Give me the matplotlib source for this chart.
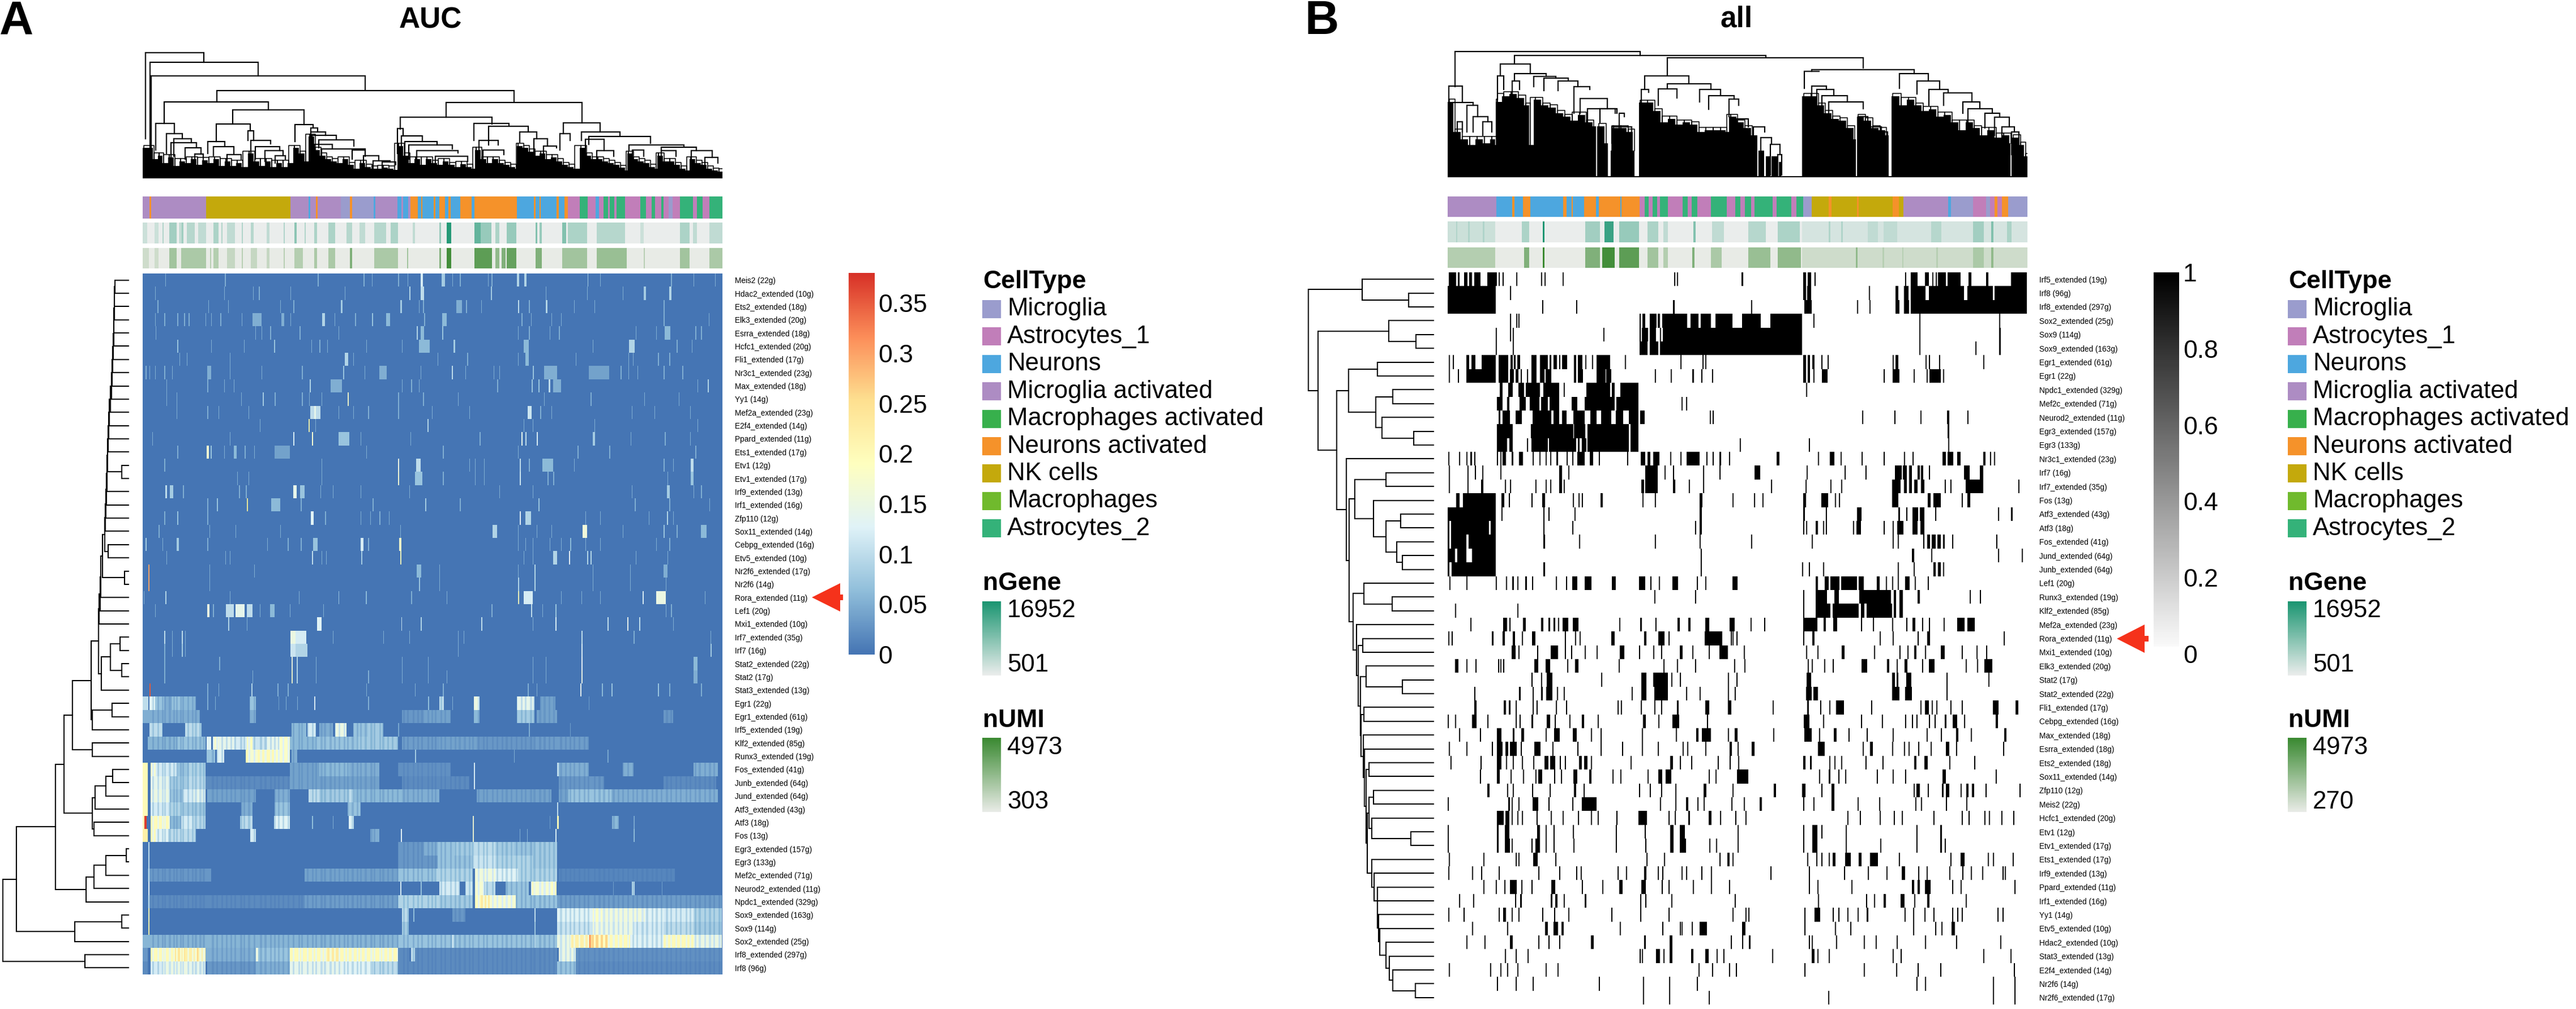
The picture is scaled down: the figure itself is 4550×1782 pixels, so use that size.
import matplotlib
matplotlib.use("Agg")
import matplotlib.pyplot as plt
import numpy as np
from matplotlib.colors import LinearSegmentedColormap, ListedColormap
from matplotlib.patches import Polygon, Rectangle

plt.rcParams["font.family"] = ["Liberation Sans", "DejaVu Sans"]

W, H = 4550, 1782

cell_types = ["Microglia", "Astrocytes_1", "Neurons", "Microglia activated", "Macrophages activated",
              "Neurons activated", "NK cells", "Macrophages", "Astrocytes_2"]
cell_colors = ["#9A9CCD", "#C17EB9", "#4DA7DF", "#AD8CC3", "#37B04C", "#F5922A", "#C4A90C", "#70BA2D", "#34B279"]
M, A1, N, MA, MPA, NA, NK, MP, A2 = range(9)

auc_ticks = [0, 0.05, 0.1, 0.15, 0.2, 0.25, 0.3, 0.35]
auc_tick_labels = ["0", "0.05", "0.1", "0.15", "0.2", "0.25", "0.3", "0.35"]
all_ticks = [0, 0.2, 0.4, 0.6, 0.8, 1]
all_tick_labels = ["0", "0.2", "0.4", "0.6", "0.8", "1"]

auc_labels = ["Meis2 (22g)", "Hdac2_extended (10g)", "Ets2_extended (18g)", "Elk3_extended (20g)", "Esrra_extended (18g)",
              "Hcfc1_extended (20g)", "Fli1_extended (17g)", "Nr3c1_extended (23g)", "Max_extended (18g)", "Yy1 (14g)",
              "Mef2a_extended (23g)", "E2f4_extended (14g)", "Ppard_extended (11g)", "Ets1_extended (17g)", "Etv1 (12g)",
              "Etv1_extended (17g)", "Irf9_extended (13g)", "Irf1_extended (16g)", "Zfp110 (12g)", "Sox11_extended (14g)",
              "Cebpg_extended (16g)", "Etv5_extended (10g)", "Nr2f6_extended (17g)", "Nr2f6 (14g)", "Rora_extended (11g)",
              "Lef1 (20g)", "Mxi1_extended (10g)", "Irf7_extended (35g)", "Irf7 (16g)", "Stat2_extended (22g)", "Stat2 (17g)",
              "Stat3_extended (13g)", "Egr1 (22g)", "Egr1_extended (61g)", "Irf5_extended (19g)", "Klf2_extended (85g)",
              "Runx3_extended (19g)", "Fos_extended (41g)", "Junb_extended (64g)", "Jund_extended (64g)", "Atf3_extended (43g)",
              "Atf3 (18g)", "Fos (13g)", "Egr3_extended (157g)", "Egr3 (133g)", "Mef2c_extended (71g)", "Neurod2_extended (11g)",
              "Npdc1_extended (329g)", "Sox9_extended (163g)", "Sox9 (114g)", "Sox2_extended (25g)", "Irf8_extended (297g)",
              "Irf8 (96g)"]

# AUC rows. int = faint line, (x, v) = line with value, (x0, x1, v) = block
auc_rows = [
    [67, 227, 475, 598, 620, 690, 715, (750, 757, .12), (806, 815, .08), 835, 855, 930, 940, (1008, 1013, .09), (1027, 1033, .09), (1196, .08), 1230, 1420, 1480, 1537],
    [40, 225, 302, 318, 402, (720, .09), (750, 760, .1), 547, (938, .08), 1085, 1195, 1290, (1347, 1353, .08), (1415, 1421, .09)],
    [47, 182, 235, 375, 410, (537, 541, .08), (696, 701, .08), 745, 757, (845, 860, .05), 872, 912, (1010, .1), 1040, (1085, 1090, .09), 1160, 1215, 1400],
    [40, 65, 100, 118, 130, 175, 190, 215, 272, (300, 325, .05), (378, 385, .05), 402, (487, 495, .09), 520, 575, (620, .07), (658, 668, .06), 760, (808, 820, .06), 1020, 1045, 1100, 1125, 1400, 1520],
    [42, 308, 325, 348, 427, 530, (740, .09), (750, 760, .06), (808, .07), 1010, 1040, 1095, 1120, 1325, 1380, (1403, 1418, .06), 1485, 1500],
    [(100, .07), 190, 278, (358, .07), 458, 480, 500, 605, 700, (745, 775, .06), (838, 843, .08), (1025, 1040, .06), 1210, (1308, 1322, .09), 1435, 1475],
    [105, 125, 240, (548, 556, .09), 570, 795, 875, 1010, (1030, 1040, .06), 1165, 1305, 1318, 1385, 1415],
    [15, 25, 40, 65, 85, (180, 190, .05), 240, 325, 433, (543, .07), 600, (640, 660, .05), 750, (833, .1), 870, 945, 960, (1050, .07), (1080, 1115, .05), (1200, 1255, .04), 1285, 1305, 1330, 1400, 1450],
    [70, 180, 225, 250, (453, .09), (510, 540, .05), 700, 725, 745, 955, (1047, .07), (1065, .07), (1093, 1097, .1), (1105, 1125, .05), 1490, (1517, .09)],
    [70, 98, 270, (328, .08), 360, 433, 452, 485, (555, .18), 690, 757, 850, 1080, 1205, 1348, 1440],
    [98, 180, 210, 290, (455, 482, .1), (465, 470, .14), 530, 570, 610, 690, 780, 880, (1037, 1047, .11), 1070, 1100, 1315, 1375, 1470],
    [320, (450, .22), 468, (768, .09), 1025, 1050, 1215, 1490],
    [32, 240, (410, .12), (459, .17), (530, 560, .07), 590, 723, 908, (1020, .14), (1030, .1), (1060, .12), (1210, 1216, .08), 1312, 1403, 1470],
    [100, (178, 184, .17), (188, 192, .07), 225, (250, 258, .06), 280, 305, (360, 400, .04), 605, 810, 1010, 1170, 1255, 1485],
    [65, 485, (690, .15), (738, 750, .1), 880, 895, 920, (1015, .1), 1040, (1075, 1105, .06), 1160, 1400, 1425, (1472, 1480, .1)],
    [260, 290, 485, (690, .17), (735, 755, .07), 810, 895, 920, (1015, .11), 1090, 1105, 1410, (1472, 1480, .07)],
    [(67, 72, .1), (80, 88, .08), 115, 265, 283, (410, 418, .14), (428, 440, .07), 482, 515, 590, 720, 960, 1050, 1315, (1408, 1416, .08), 1480, 1500],
    [180, (205, .07), (285, .24), (350, 375, .06), 430, 622, (762, .08), 855, (1065, .07), 1323, 1415, 1522],
    [65, (100, .07), 180, (456, 464, .13), 495, 590, 615, 640, 665, (1015, .13), (1030, 1045, .09), 1190, 1230, 1360, (1408, .09), 1425],
    [50, 185, 255, 375, 695, (942, 955, .09), 1010, 1060, 1100, (1183, 1195, .16), 1290, (1400, .07), 1435, (1500, 1515, .06)],
    [(15, .08), 60, (98, 104, .08), 180, 340, 395, 430, (462, 475, .07), (590, 598, .12), 610, (692, 698, .18), 1010, 1030, 1050, 1095, 1125, (1150, .06), 1190, 1230, 1380, 1415],
    [70, 228, 240, (460, .1), 485, 497, (592, .08), (696, .2), 1025, 1050, (1105, 1115, .09), (1147, .13), (1195, .09), (1205, .09), 1325, 1410],
    [(22, .3), 185, 305, (740, 752, .06), 800, 1010, (1055, .09), 1210, 1310, (1400, 1410, .05)],
    [(22, .3), 185, (745, .07), 800, (1010, .09), (1055, .09), 1210, 1310, 1405],
    [10, (67, .09), 240, 425, (530, .07), (603, .06), 725, 820, (1010, .2), (1025, 1050, .12), 1125, 1180, 1230, (1343, .12), (1380, 1405, .15), 1510],
    [40, (180, 186, .15), 195, (230, 250, .1), (255, 280, .14), (285, 300, .1), 320, (348, 360, .06), 400, 490, 940, (1045, .1), 1075, (1110, .07), 1405, 1420],
    [(235, .09), 285, (473, 485, .13), (698, .1), (750, .09), (912, .1), 1050, (1110, .12), (1250, .1), (1303, .14), (1335, .1), 1425],
    [(65, .1), 85, (112, .1), 120, (402, 415, .15), (415, 445, .12), 515, 650, 720, 850, 865, (1180, .1), 1320, 1525],
    [65, 85, (112, .08), 120, (402, 415, .11), (415, 448, .09), 850, (1180, .12), (1525, .08)],
    [65, 212, (405, .16), (418, .09), 470, 700, 770, 1050, 1085, (1180, .13), (1480, 1490, .06)],
    [65, 300, (405, .18), (418, .09), 470, 610, 700, 770, 820, 1050, 1085, (1180, .15), (1480, 1490, .05)],
    [(25, .35), 180, 210, (298, .09), 368, 395, 605, 735, 810, 1037, 1060, (1177, .14), (1235, .06), (1260, .07), (1385, .07), 1415, 1500],
    [(7, 22, .1), (25, 40, .13), (40, 65, .07), (65, 85, .05), (85, 110, .07), (110, 150, .06), 180, 200, (293, 310, .07), 370, 390, 420, (465, .12), 610, (770, .09), (800, 812, .1), 835, (893, 908, .15), (1008, 1055, .14), (1070, 1110, .04), 1200],
    [(7, 160, .05), (293, 310, .05), (700, 760, .03), (760, 830, .04), (893, 908, .06), (1008, 1055, .08), (1060, 1115, .04), (1400, 1425, .03)],
    [(25, 60, .1), (120, 165, .1), (405, 445, .06), (447, 470, .12), (480, 515, .05), (522, 552, .15), (570, 610, .07), (610, 650, .08), 690, 1040, 1150],
    [(20, 100, .055), (100, 175, .07), (178, 190, .13), (195, 210, .17), (210, 250, .14), (250, 285, .12), (285, 300, .19), (300, 340, .11), (340, 372, .14), (372, 400, .18), (400, 470, .06), (470, 580, .07), (580, 690, .08), (700, 800, .035), (800, 900, .04), (900, 1050, .03), (1050, 1200, .035)],
    [(178, 200, .07), (205, 225, .13), (283, 292, .2), (292, 315, .17), (315, 360, .2), (360, 400, .18), (405, 420, .05), (735, .08), 1000, 1250],
    [(7, 20, .2), (28, 42, .17), (42, 100, .12), (100, 130, .07), (130, 175, .09), (400, 480, .04), (480, 560, .06), (560, 640, .05), (690, 830, .025), (893, .12), (1115, 1120, .1), (1120, 1200, .05), (1290, 1320, .05), (1480, 1545, .05)],
    [(7, 20, .2), (28, 80, .14), (80, 130, .08), (130, 175, .1), (175, 400, .02), (400, 640, .04), (700, 880, .02), (893, .12), (1120, 1240, .03), (1400, 1540, .02)],
    [(7, 20, .2), (28, 80, .15), (80, 115, .07), (115, 140, .12), (140, 175, .14), (180, 310, .04), (360, 400, .05), (450, 480, .1), (480, 560, .08), (560, 570, .1), (570, 700, .06), (700, 800, .05), (900, 1100, .04), (1120, 1145, .04), (1145, 1260, .07), (1260, 1545, .05)],
    [(7, 20, .2), (28, 80, .12), (80, 110, .09), (110, 175, .08), (270, 300, .05), (360, 400, .07), (555, 590, .07), (1115, .1)],
    [(7, 11, .2), (12, 18, .37), (28, 80, .2), (80, 110, .06), (110, 140, .12), (140, 175, .1), (268, 300, .1), (358, 400, .13), (460, .09), 515, (558, 572, .13), (890, 893, .24), 1095, (1115, 1120, .2), (1262, 1280, .06), 1320],
    [(7, 20, .22), (28, 42, .2), (42, 75, .13), (75, 150, .1), (295, 310, .12), (615, 640, .05), (697, .13), (890, 893, .24), 1015, 1035, (1110, .12), (1320, .07)],
    [(22, .1), (690, 760, .03), (760, 795, .05), (795, 840, .07), (840, 890, .08), (890, 950, .1), (950, 1000, .08), (1000, 1050, .07), (1050, 1115, .08)],
    [(22, .1), (690, 795, .03), (795, 890, .07), (890, 950, .11), (950, 1050, .09), (1050, 1115, .08)],
    [(22, .1), (20, 190, .03), (440, 690, .04), (690, 790, .07), (790, 890, .09), (895, 950, .16), (950, 1010, .13), (1010, 1050, .09), (1050, 1115, .09), (1120, 1430, .015)],
    [(22, .13), (695, .12), (750, .08), (800, 855, .12), (870, 890, .11), (895, 920, .17), (920, 950, .1), (978, 1040, .07), (1045, 1058, .2), (1058, 1100, .17), (1100, 1113, .19), 1265, (1315, 1322, .1), 1395],
    [(22, .1), (20, 440, .02), (440, 690, .035), (690, 800, .09), (800, 890, .08), (895, 910, .19), (910, 935, .23), (935, 1005, .17), (1005, 1115, .07), (1115, 1555, .035)],
    [(22, .2), (700, 718, .1), (730, .09), (835, 870, .03), (1055, .14), (1115, 1210, .13), (1210, 1235, .18), (1235, 1350, .16), (1350, 1400, .13), (1400, 1480, .12), (1480, 1555, .09)],
    [(22, .22), (700, 718, .08), (1055, .1), (1115, 1210, .11), (1210, 1235, .16), (1235, 1320, .15), (1320, 1400, .12), (1400, 1480, .1), (1480, 1555, .08)],
    [(7, 400, .055), (400, 690, .055), (690, 1115, .07), (835, .12), (1055, .12), (1115, 1150, .15), (1150, 1200, .22), (1200, 1204, .32), (1204, 1250, .26), (1250, 1310, .2), (1310, 1400, .13), (1400, 1480, .2), (1480, 1555, .15)],
    [(7, 20, .03), (28, 90, .2), (90, 120, .24), (120, 175, .22), (150, 155, .26), (175, 310, .05), (310, 316, .15), (316, 400, .07), (400, 500, .2), (500, 530, .23), (530, 690, .2), (690, 720, .02), (725, 735, .1), (735, 1115, .02), (1120, 1165, .15), (1165, 1555, .025)],
    [(7, 20, .02), (28, 60, .12), (60, 130, .15), (130, 175, .14), (180, 310, .03), (310, 400, .05), (400, 540, .14), (540, 620, .13), (620, 690, .1), (690, 1115, .02), (1115, 1165, .07), (1165, 1555, .02)],
]

# columns that read darker than their block in the lower AUC rows
auc_dim_cols = [33, 46, 58, 64, 77, 88, 96, 107, 113, 126, 138, 147, 159, 168, 192, 204, 217, 229, 241, 252, 268, 276, 289, 303, 321, 333, 347, 358,
                369, 381, 394, 408, 423, 431, 446, 459, 468, 483, 492, 507, 518, 531, 544, 553, 566, 579, 588, 601, 616, 624, 639, 648, 661, 673, 686,
                703, 714, 729, 741, 752, 768, 779, 788, 803, 814, 829, 841, 852, 866, 879, 888, 903, 917, 926, 941, 953, 966, 978, 991, 1004, 1018, 1029,
                1043, 1052, 1067, 1079, 1092, 1104, 1123, 1136, 1148, 1159, 1172, 1186, 1197, 1213, 1226, 1238, 1251, 1264, 1277, 1289, 1302, 1316, 1327,
                1341, 1353, 1368, 1379, 1392, 1406, 1417, 1431, 1443, 1458, 1469, 1483, 1494, 1508, 1521, 1533, 1547]
auc_dim_rows = [32, 33, 34, 35, 36, 37, 38, 39, 40, 41, 42, 43, 44, 45, 46, 47, 48, 49, 50, 51, 52]

all_labels = ["Irf5_extended (19g)", "Irf8 (96g)", "Irf8_extended (297g)", "Sox2_extended (25g)", "Sox9 (114g)", "Sox9_extended (163g)",
              "Egr1_extended (61g)", "Egr1 (22g)", "Npdc1_extended (329g)", "Mef2c_extended (71g)", "Neurod2_extended (11g)",
              "Egr3_extended (157g)", "Egr3 (133g)", "Nr3c1_extended (23g)", "Irf7 (16g)", "Irf7_extended (35g)", "Fos (13g)",
              "Atf3_extended (43g)", "Atf3 (18g)", "Fos_extended (41g)", "Jund_extended (64g)", "Junb_extended (64g)", "Lef1 (20g)",
              "Runx3_extended (19g)", "Klf2_extended (85g)", "Mef2a_extended (23g)", "Rora_extended (11g)", "Mxi1_extended (10g)",
              "Elk3_extended (20g)", "Stat2 (17g)", "Stat2_extended (22g)", "Fli1_extended (17g)", "Cebpg_extended (16g)",
              "Max_extended (18g)", "Esrra_extended (18g)", "Ets2_extended (18g)", "Sox11_extended (14g)", "Zfp110 (12g)", "Meis2 (22g)",
              "Hcfc1_extended (20g)", "Etv1 (12g)", "Etv1_extended (17g)", "Ets1_extended (17g)", "Irf9_extended (13g)",
              "Ppard_extended (11g)", "Irf1_extended (16g)", "Yy1 (14g)", "Etv5_extended (10g)", "Hdac2_extended (10g)",
              "Stat3_extended (13g)", "E2f4_extended (14g)", "Nr2f6 (14g)", "Nr2f6_extended (17g)"]

# binarised rows. int = thin line, (x0, x1) = block
all_rows = [
    [(28, 48), (52, 56), (68, 78), (82, 90), (95, 112), (130, 155), 160, 170, (206, 210), 272, 282, 329, 625, 633, (804, 808), (967, 975), (980, 988), 998, 1237, (1252, 1270), (1290, 1300), 1310, 1318, (1325, 1345), (1350, 1385), (1405, 1413), (1452, 1458), (1518, 1560)],
    [(25, 153), 190, (968, 975), (978, 988), 1142, (1212, 1220), (1235, 1246), (1252, 1292), (1300, 1394), (1402, 1470), (1474, 1560)],
    [(25, 153), 275, 365, (622, 626), 829, (970, 990), 1110, 1143, (1212, 1222), (1235, 1248), (1252, 1560)],
    [190, 206, 213, (533, 537), (541, 549), (560, 578), (582, 588), (593, 659), (669, 689), (695, 723), (735, 780), (805, 855), (880, 965), 994, 1275, 1486],
    [153, 190, 198, 438, (533, 537), (540, 556), (560, 577), (587, 590), (595, 965), 1275, (1487, 1491)],
    [153, 198, (533, 555), (560, 583), (588, 965), 1275, 1424, (1487, 1491)],
    [28, 38, (75, 82), (88, 98), (115, 153), (160, 185), (192, 197), (200, 205), (210, 217), (247, 260), (270, 290), (295, 300), (305, 315), 320, (328, 342), (360, 365), (370, 382), 390, 408, (420, 456), 494, (642, 645), 700, 707, (967, 975), (980, 986), (992, 997), 1016, 1032, (1205, 1208), (1212, 1220), 1292, 1300, 1327, 1445],
    [28, 52, (75, 153), (160, 185), (190, 200), (205, 213), 218, 235, (247, 260), (270, 282), (285, 300), (360, 365), (370, 384), (420, 443), (445, 458), 574, 616, (673, 677), 697, 725, (967, 975), (980, 986), 995, (1017, 1032), 1180, (1205, 1222), 1260, 1295, (1302, 1332), 1338],
    [(163, 170), (185, 197), (213, 228), (232, 270), (278, 320), 332, (392, 455), (460, 468), (482, 531), 975],
    [(155, 170), (183, 188), (215, 232), (243, 268), (272, 290), (295, 320), (353, 368), (388, 468), (472, 531), 645, 657],
    [(160, 165), (170, 190), (205, 222), (250, 300), (305, 320), (328, 340), (358, 388), (403, 420), (432, 458), (470, 490), (505, 531), (535, 547), 720, 727, 1124, 1209, 1278, (1349, 1354), 1402],
    [(155, 198), (246, 358), (360, 390), (395, 505), (510, 531), (1350, 1354)],
    [(155, 183), (188, 198), 235, (247, 290), (293, 365), (370, 375), (380, 392), (395, 505), (510, 531), 800, 983, 1352],
    [26, 55, 75, (85, 90), 95, 155, 165, (170, 180), (195, 199), (214, 225), 250, 268, 284, 296, (313, 318), 340, 355, (368, 388), (402, 410), 425, 500, (537, 548), (555, 562), (570, 586), 615, 641, (658, 692), 710, 727, (745, 750), 770, (897, 905), 1006, (1038, 1050), 1067, 1122, 1180, 1235, 1257, (1337, 1345), (1350, 1365), (1375, 1385), (1445, 1450), 1462, 1473],
    [28, 77, 97, 117, 165, (320, 328), 345, (549, 582), 600, 622, 702, 745, (838, 853), 977, 1077, 1133, (1210, 1228), (1232, 1242), (1248, 1255), (1270, 1276), (1280, 1286), 1300, (1393, 1408), (1436, 1444)],
    [28, 77, (113, 119), 177, 190, 257, 285, 296, (320, 328), 332, (538, 545), (548, 582), (622, 628), 664, 702, 882, 973, 1040, 1068, (1203, 1226), (1235, 1242), (1248, 1255), (1262, 1270), (1280, 1288), 1343, 1357, (1398, 1444), 1538],
    [(48, 57), (65, 153), (168, 175), 187, 247, (275, 283), 356, 372, 380, (430, 436), 541, 574, (693, 700), 780, 837, 860, (967, 975), (1015, 1033), 1052, 1062, (1203, 1220), (1297, 1305), (1312, 1332), 1388, (1403, 1410)],
    [(25, 153), 167, (278, 282), 292, 361, (693, 698), (968, 972), 1027, (1110, 1122), (1220, 1224), 1240, (1257, 1272), (1276, 1288), 1317, 1483, (1518, 1522)],
    [(25, 30), (34, 135), (139, 153), (278, 282), 355, 680, (693, 698), 967, 975, (1000, 1006), 1020, 1027, 1100, (1108, 1120), 1180, 1205, (1217, 1233), (1257, 1270), (1278, 1288)],
    [(25, 30), (34, 75), (80, 153), (278, 283), 373, 574, 693, 829, 990, 1205, 1218, 1285, (1296, 1303), (1308, 1318), (1323, 1332), (1338, 1343), 1362, 1479],
    [(25, 44), (50, 75), (90, 153), 695, (1256, 1261), 1306, 1483, 1547],
    [(25, 30), (35, 153), (278, 283), 695, 965, 983, 1020, 1218, 1260, (1312, 1318), (1325, 1332), 1338],
    [30, 74, 153, 180, (196, 200), 210, (230, 235), (248, 252), 312, 338, (355, 368), (388, 406), (460, 470), (532, 548), 562, 585, (620, 636), 685, 708, (780, 793), (1001, 1006), (1025, 1035), (1040, 1063), (1068, 1110), (1115, 1128), (1163, 1170), 1187, 1203, 1218, (1238, 1250), 1263, 1297],
    [572, 680, 967, (1000, 1030), (1050, 1062), (1116, 1200), (1208, 1213), (1222, 1232), (1270, 1276), 1408, 1436],
    [44, 209, 967, (1000, 1040), (1045, 1115), (1120, 1130), (1135, 1203), (1208, 1213), (1222, 1232)],
    [85, (172, 182), (188, 192), (225, 232), (272, 278), (292, 296), (305, 310), 318, (330, 344), (357, 372), 480, (535, 540), 575, (634, 640), (662, 668), (708, 718), (772, 786), 828, 864, (967, 1005), (1022, 1028), (1047, 1058), 1120, 1152, 1203, 1240, (1257, 1265), 1282, 1300, 1340, (1375, 1395), (1403, 1422)],
    [27, 35, (142, 147), (170, 177), (197, 203), 222, (248, 257), 335, 362, 375, (458, 468), (545, 552), (583, 600), 610, (706, 752), 775, 780, 790, 967, (992, 998), 1170, 1205, 1270, (1296, 1303), 1498],
    [(195, 205), 212, 262, (298, 318), 335, 352, 388, 420, (481, 493), 532, 570, 590, (640, 647), 673, 717, (745, 767), 810, 975, 1005, (1070, 1077), 1155, 1222, 1243, (1262, 1268), 1290, (1332, 1342), 1388, 1427, 1452],
    [(45, 53), 74, 98, 158, 165, 172, (255, 265), (285, 296), 342, (362, 372), 478, 596, 632, 680, (784, 787), 812, 980, 990, 1023, 1045, (1122, 1137), (1190, 1195), 1215, (1236, 1244), 1282, (1300, 1315), 1398, 1428, (1448, 1469)],
    [247, (272, 276), (287, 302), 432, (538, 551), (570, 608), 618, 640, 767, 790, (977, 989), (1203, 1210), (1215, 1220), (1240, 1254), 1347, 1458],
    [95, (214, 219), 250, (273, 277), (286, 302), 315, 332, 512, (538, 551), (573, 608), 657, 692, 767, 786, (975, 990), (995, 1006), (1203, 1222), (1238, 1255), 1347],
    [(95, 102), (173, 179), (187, 192), 205, 250, 260, 311, 338, 475, 484, 536, 573, 591, (632, 637), (708, 718), (767, 776), 886, (978, 982), 1012, 1036, (1055, 1075), 1148, 1278, (1290, 1300), 1308, 1320, 1357, 1387, (1470, 1485), (1530, 1537)],
    [25, 45, (90, 101), 130, 205, 215, (247, 252), (288, 296), 308, 348, (380, 386), 422, (543, 550), 583, (621, 639), 712, (969, 984), 1020, 1120, 1176, 1237, 1255, 1268, 1300, 1315, (1342, 1347), (1364, 1375), 1394, (1478, 1483)],
    [55, 110, (155, 168), (197, 202), (220, 227), 285, (307, 322), (357, 367), 405, 430, 540, 630, (683, 690), (698, 722), 768, (786, 793), 888, (970, 990), 1010, (1048, 1056), 1088, 1135, 1205, 1295, 1332, (1372, 1378), 1412, (1500, 1506)],
    [28, 74, 142, (155, 170), (178, 186), (190, 208), 218, (255, 271), 302, 368, 430, 487, 540, 582, 647, 660, 708, (772, 778), 794, (831, 839), (1007, 1024), 1125, (1145, 1152), 1203, 1235, 1247, 1272, 1305, (1345, 1355), 1372, 1497],
    [32, 112, (155, 168), 180, 197, 222, 252, (282, 292), (296, 310), 322, 335, (373, 380), (387, 395), 404, 510, (615, 622), 640, 670, 740, 772, 795, (968, 974), (985, 990), 1036, 1050, 1068, 1132, 1178, (1262, 1267), (1288, 1297), 1355, 1420],
    [110, (155, 163), 192, 225, 258, (265, 275), 307, 325, (358, 368), (400, 406), 462, 482, 555, (583, 593), (603, 617), 717, 735, (792, 822), 1010, (1035, 1040), 1060, 1078, 1162, 1204, 1238, (1337, 1346), 1477],
    [(130, 136), 182, 197, 248, 295, (360, 365), 385, 532, 560, 590, 628, (703, 710), 780, (890, 896), (965, 974), 1015, (1042, 1050), 1260, (1268, 1276), 1298, (1335, 1340), (1345, 1355), 1385, (1400, 1406), (1414, 1420), 1450, 1540],
    [25, (185, 190), 195, 213, (250, 265), 292, 355, (380, 420), 588, 628, (657, 663), 687, 703, 776, 810, (852, 858), 968, 995, (1043, 1050), 1112, 1168, 1265, 1280, 1345, 1400],
    [(155, 173), (178, 188), 195, 210, 222, 261, 298, 330, 370, 405, 422, 472, (531, 553), 610, 627, (662, 667), (716, 724), 747, 787, 815, 1085, 1118, 1170, 1208, 1228, 1313, 1388, 1405, 1447, 1460, 1492, 1524],
    [25, (155, 160), (177, 188), (262, 270), 285, 305, 357, 470, 547, (614, 623), (640, 654), 793, 968, (992, 1005), 1016, 1080, 1268, (1330, 1335)],
    [25, (155, 160), (177, 190), 195, 247, (258, 270), 285, 305, 358, 471, 548, (614, 623), (640, 656), 718, 736, 793, 968, (992, 1005), 1080, 1172, 1268, (1330, 1335), 1342],
    [28, 120, 205, 212, (252, 263), 310, 552, 598, 745, (766, 772), 780, 978, 1002, 1015, 1035, (1045, 1053), (1078, 1093), (1115, 1122), (1145, 1165), 1221, 1358, (1385, 1395), 1457, 1470, 1522],
    [27, 90, 113, 160, 265, 321, 365, 378, 475, 497, (546, 552), 582, 594, 645, 657, 697, 723, 880, 983, 1076, 1138, 1188, (1228, 1238), 1272, 1295, 1355, 1389, 1412, 1442, 1495, 1502],
    [120, 153, 175, (190, 208), 220, 247, (300, 310), 380, 435, (480, 488), (538, 550), 592, 610, 675, 722, 770, 982, 1005, 1095, (1255, 1262), (1270, 1276), (1290, 1305), 1362, 1384, 1527],
    [55, 92, 203, (217, 222), (298, 303), (310, 316), 332, (388, 393), 535, 548, 618, 785, 1007, 1134, 1155, (1180, 1187), (1226, 1236), 1262, (1296, 1302), 1398],
    [26, 67, 160, (172, 180), 195, 212, 275, 307, 345, 458, 535, 610, 780, 815, 822, 970, (998, 1012), 1045, 1060, 1085, 1112, (1135, 1140), 1236, 1258, 1288, 1313, 1362, 1375, 1388, 1482, 1495],
    [90, 182, (283, 290), (305, 318), (327, 332), 481, 593, 640, 645, 672, (692, 712), (805, 815), 970, 1052, 1092, 1258, 1317, 1333, (1360, 1370)],
    [74, 123, (190, 198), 265, 292, 320, (405, 412), (545, 550), (613, 621), 775, 805, (823, 828), 983, 990, 1055, 1128, 1160, 1215, 1290, 1373, 1490],
    [177, 205, 237, 533, 540, (577, 588), 596, (613, 620), (670, 676), (708, 716), 738, 755, 885, (990, 998), 1005, 1035, 1205, 1225, 1445, 1517],
    [28, 138, 164, 182, 210, 285, 316, 690, 725, 770, 788, 970, 1128, 1213, 1270, 1330, 1525],
    [155, 205, 250, 425, 543, 611, 685, 1268, 1290, 1470, 1527],
    [543, 611, 717, 1034, 1470, 1527],
]

# annotation bars, (end, type) along the bar
auc_celltype = [(36, MA), (40, NA), (185, MA), (407, NK), (455, MA), (460, N), (475, MA), (480, NA), (540, MA), (565, M), (570, NA), (627, M), (632, N), (690, MA), (700, N), (705, MA), (718, N), (724, MA), (743, NA), (752, N), (756, NA), (785, N), (790, NA), (800, N), (815, NA), (825, N), (830, NA), (855, N), (885, NA), (893, N), (1005, NA), (1050, N), (1055, NA), (1065, N), (1068, NA), (1110, N), (1115, NA), (1130, N), (1140, NA), (1170, A1), (1192, A2), (1212, A1), (1222, N), (1234, A1), (1245, A2), (1250, A1), (1262, A2), (1268, A1), (1290, A2), (1330, A1), (1345, A2), (1360, A1), (1370, A2), (1385, A1), (1392, A2), (1405, A1), (1415, M), (1435, A1), (1470, A2), (1480, A1), (1494, A2), (1512, A1), (1547, A2)]
all_celltype = [(468, MA), (500, N), (505, NA), (522, N), (538, NA), (605, N), (612, NA), (622, N), (625, NA), (648, N), (672, NA), (678, N), (722, NA), (725, N), (762, NA), (772, A1), (780, A2), (788, A1), (798, A2), (803, A1), (820, A2), (850, A1), (860, A2), (868, A1), (880, A2), (908, A1), (940, A2), (958, A1), (968, A2), (978, A1), (990, A2), (997, A1), (1035, A2), (1043, A1), (1073, A2), (1083, A1), (1097, A2), (1115, M), (1150, NK), (1155, NA), (1208, NK), (1211, NA), (1281, NK), (1293, NA), (1303, NK), (1395, MA), (1400, N), (1445, M), (1472, A1), (1480, M), (1490, A1), (1495, NA), (1505, A1), (1518, NA), (1557, M)]

auc_ngene = [(18, 30, .15), (50, 60, .15), 70, (88, 107, .35), 115, (120, 125, .35), (135, 155, .25), (165, 185, .2), (205, 218, .3), 225, (240, 262, .2), 280, (303, 310, .25), (345, 352, .2), 390, (418, 424, .45), 445, (470, 478, .3), (508, 525, .3), (555, 570, .25), (590, 605, .2), (628, 660, .25), (672, 692, .3), (730, 736, .2), (800, 805, .4), (820, 832, .95), (893, 910, .65), (910, 938, .4), (948, 958, .3), (978, 1003, .4), (1055, 1058, .5), (1065, 1070, .4), (1125, 1135, .5), (1140, 1190, .3), (1215, 1290, .25), (1330, 1340, .15), (1435, 1460, .3), (1470, 1480, .2), (1512, 1547, .2)]
auc_numi = [(18, 35, .15), (50, 60, .15), (88, 107, .4), (120, 185, .35), 195, (205, 218, .3), (240, 262, .2), 280, (303, 320, .2), (345, 352, .2), 390, (418, 440, .3), (470, 478, .35), (508, 525, .35), (565, 570, .6), (628, 692, .35), (715, .4), (800, 805, .6), (820, 832, .95), (893, 940, .8), (948, 958, .5), (965, 975, .6), (978, 1003, .75), (1055, 1070, .6), (1125, 1190, .4), (1215, 1295, .45), 1340, (1435, 1460, .4), (1512, 1547, .35)]
all_ngene = [(368, 465, .15), 385, 410, 440, (520, 535, .3), (563, 566, 1.0), (650, 680, .35), (690, 708, .85), (720, 760, .4), (778, 800, .3), (810, 820, .2), (872, 876, .5), (910, 935, .2), (985, 1020, .25), (1045, 1090, .3), (1095, 1557, .1), 1150, 1175, (1230, 1250, .2), (1262, 1290, .2), (1360, 1380, .25), (1445, 1468, .35), (1483, 1487, .5), (1515, 1525, .3)]
all_numi = [(368, 465, .3), (525, 535, .6), (563, 566, 1.0), (650, 680, .6), (685, 710, .95), (720, 760, .8), (778, 800, .4), (810, 820, .3), (870, 874, .6), (908, 930, .35), (985, 1030, .45), (1045, 1092, .5), (1095, 1557, .15), (1205, .5), 1260, 1300, 1370, (1445, 1468, .35), (1483, .5)]

# column dendrograms: x left, x right, y top, y left foot, y right foot
auc_links = [(25, 180, 25, 480, 75), (37, 322, 75, 540, 148), (40, 605, 148, 530, 222), (213, 997, 225, 285, 285), (75, 350, 285, 400, 327),
             (256, 444, 327, 403, 405), (818, 1177, 287, 368, 397), (697, 939, 368, 430, 403), (1127, 1225, 397, 455, 445), (52, 101, 400, 540, 455),
             (212, 302, 402, 497, 440), (420, 468, 405, 495, 422), (892, 984, 400, 490, 412), (931, 1035, 415, 515, 445), (1012, 1057, 445, 500, 480),
             (80, 123, 455, 560, 482), (100, 146, 482, 575, 503), (92, 160, 503, 590, 525), (130, 172, 530, 590, 563), (155, 178, 563, 600, 580),
             (190, 235, 497, 560, 520), (205, 258, 523, 570, 560), (240, 278, 565, 600, 590), (295, 310, 440, 490, 490), (303, 355, 490, 560, 508),
             (315, 380, 523, 590, 545), (340, 388, 545, 600, 572), (368, 395, 572, 610, 590), (462, 480, 425, 500, 445), (462, 500, 445, 480, 462),
             (465, 528, 462, 540, 480), (483, 575, 487, 530, 520), (470, 518, 510, 580, 535), (490, 605, 535, 600, 570), (570, 605, 540, 590, 575),
             (600, 640, 570, 630, 597), (625, 670, 597, 640, 605), (650, 685, 605, 640, 620), (690, 705, 428, 560, 465), (700, 755, 465, 560, 495),
             (710, 795, 497, 590, 515), (720, 835, 515, 590, 535), (740, 850, 545, 600, 555), (790, 875, 575, 620, 600), (905, 955, 490, 540, 515),
             (915, 970, 540, 600, 565), (1050, 1085, 480, 570, 520), (1075, 1110, 520, 590, 530), (1118, 1145, 455, 540, 490), (1175, 1277, 445, 490, 465),
             (1195, 1357, 468, 510, 505), (1185, 1235, 485, 590, 545), (1215, 1260, 545, 610, 575), (1300, 1445, 515, 540, 520), (1310, 1340, 540, 630, 575),
             (1385, 1478, 525, 545, 545), (1385, 1425, 545, 620, 575), (1465, 1520, 545, 610, 580), (1500, 1535, 580, 640, 610)]
# top of the solid part of the tree, as steps
auc_mass_x = [18, 45, 58, 70, 85, 100, 115, 130, 145, 160, 175, 190, 205, 220, 235, 250, 265, 280, 295, 310, 325, 340, 355, 370, 385, 400, 415, 430, 445, 455, 470, 485, 500, 515, 530, 545, 560, 575, 590, 605, 620, 635, 650, 665, 680,
              690, 705, 720, 735, 750, 765, 780, 795, 810, 825, 840, 855, 870, 885, 895, 910, 925, 940, 955, 970, 985, 1000, 1005, 1020, 1035, 1050, 1065, 1080, 1095, 1110, 1125, 1140, 1155, 1170, 1185, 1200, 1215, 1230, 1245, 1260, 1275, 1290,
              1296, 1310, 1325, 1340, 1355, 1370, 1375, 1390, 1405, 1420, 1435, 1450, 1460, 1475, 1490, 1505, 1520, 1535, 1547]
auc_mass_y = [530, 590, 570, 610, 580, 625, 600, 610, 590, 620, 595, 610, 590, 625, 600, 625, 610, 630, 560, 600, 625, 600, 630, 610, 630, 610, 530, 560, 600, 470, 540, 570, 590, 600, 610, 590, 620, 640, 610, 630, 640, 640, 635, 640, 645,
              520, 570, 610, 590, 620, 590, 610, 620, 600, 620, 630, 615, 630, 640, 540, 590, 610, 590, 610, 620, 630, 640, 520, 530, 550, 570, 560, 590, 580, 600, 620, 630, 640, 530, 570, 590, 590, 600, 610, 620, 635, 650,
              560, 590, 600, 610, 630, 640, 570, 600, 600, 620, 640, 650, 590, 610, 620, 640, 650, 655, 665]

all_links = [(383, 763, 275, 460, 295), (505, 1020, 295, 340, 303), (818, 1220, 308, 400, 362), (476, 537, 340, 400, 390), (772, 863, 402, 470, 442),
             (1100, 1130, 378, 470, 378), (1115, 1325, 370, 378, 390), (1295, 1354, 392, 470, 430), (370, 398, 458, 600, 542), (378, 420, 543, 600, 560),
             (408, 430, 560, 700, 620), (420, 450, 620, 700, 645), (388, 398, 645, 740, 700), (440, 458, 645, 720, 700), (470, 483, 403, 530, 475),
             (505, 570, 390, 430, 405), (500, 515, 430, 500, 475), (545, 590, 405, 460, 415), (565, 615, 415, 480, 425), (595, 635, 430, 480, 460),
             (627, 660, 460, 600, 475), (640, 695, 522, 600, 578), (655, 712, 578, 660, 600), (680, 715, 578, 650, 600), (705, 745, 672, 760, 700), (720, 730, 600, 690, 620),
             (765, 780, 475, 540, 490), (818, 908, 445, 470, 472), (800, 838, 472, 560, 520), (885, 928, 475, 540, 505), (903, 955, 507, 580, 525),
             (945, 965, 525, 620, 560), (960, 985, 630, 700, 672), (995, 1018, 672, 760, 700), (1010, 1032, 730, 820, 760), (1030, 1050, 768, 930, 820), (1045, 1053, 820, 935, 930),
             (1115, 1145, 458, 520, 475), (1125, 1160, 475, 600, 505), (1135, 1188, 507, 600, 540), (1150, 1220, 540, 640, 577), (1210, 1230, 620, 700, 660), (1230, 1258, 672, 730, 700), (1250, 1270, 700, 770, 720),
             (1330, 1377, 430, 500, 470), (1355, 1395, 475, 560, 490), (1385, 1443, 492, 560, 540), (1425, 1460, 542, 600, 577), (1435, 1485, 578, 650, 600), (1470, 1500, 600, 680, 620), (1490, 1520, 622, 720, 672), (1505, 1530, 672, 780, 700), (1525, 1540, 700, 820, 770)]
all_mass_x = [368, 380, 395, 410, 425, 440, 455, 465, 467, 480, 495, 510, 525, 535, 545, 560, 575, 590, 605, 620, 635, 650, 665, 672, 675, 690, 697, 702, 705, 720, 735, 748, 751, 760, 775, 790, 805, 820, 835, 850, 865, 880, 895, 910, 925, 938, 945, 960, 975, 990, 1003,
              1005, 1017, 1020, 1030, 1032, 1045, 1047, 1052, 1095, 1110, 1125, 1140, 1155, 1170, 1185, 1200, 1205, 1207, 1222, 1237, 1252, 1265, 1273, 1278, 1295, 1310, 1325, 1340, 1355, 1370, 1385, 1400, 1415, 1430, 1445, 1460, 1475, 1490, 1505, 1520, 1522, 1525, 1540, 1550, 1557]
all_mass_y = [540, 700, 740, 770, 740, 760, 740, 770, 540, 510, 500, 520, 560, 770, 530, 560, 570, 600, 620, 640, 610, 650, 670, 935, 670, 760, 935, 800, 680, 680, 700, 800, 935, 545, 545, 590, 650, 630, 660, 650, 660, 700, 690, 690, 690, 700, 620, 650, 680, 720, 935,
              800, 935, 830, 935, 830, 935, 860, 935, 510, 510, 560, 600, 630, 640, 680, 740, 935, 620, 640, 680, 690, 720, 935, 510, 560, 530, 560, 590, 580, 620, 610, 650, 690, 650, 680, 720, 690, 730, 720, 760, 935, 730, 770, 830, 830]

# row dendrogram of AUC: a staircase of single rows, then the lower groups
auc_trunk_items = [0, 1, 2, 3, 4, 5, 6, 7, 8, 9, 10, 11, 12, 13, (198, 14, 15), 16, 17, 18, 19, (176, 20, 21), (203, 22, 23), 24, 25, 26]
auc_trunk_x = [187, 186, 186, 185, 185, 184, 183, 182, 181, 180, 178, 177, 176, 175, 174, 173, 172, 171, 170, 167, 164, 163, 161]
auc_tail = (165, (180, (195, 27, 28), (198, 29, 30)), 31)

# row dendrogram of all: staircase at the bottom, groups above it
all_stair_leaves = [50, 49, 48, 47, 46, 45, 44, 43, 42]
all_stair_x = [540, 522, 505, 470, 465, 460, 458, 442, 428]


def fill_row(row_arr, items, default, width=2):
    for it in items:
        if isinstance(it, int):
            x0, x1, v = it, it + width, default
        elif len(it) == 3:
            x0, x1, v = it
        elif isinstance(it[1], float):
            x0, x1, v = it[0], it[0] + width + 1, it[1]
        else:
            x0, x1, v = it[0], it[1], default
        row_arr[x0:x1] = np.maximum(row_arr[x0:x1], v)


def make_grid(rows, ncols, default, width=2):
    grid = np.zeros((len(rows), ncols))
    for i, items in enumerate(rows):
        fill_row(grid[i], items, default, width)
    return grid


def add_ax(x0, y0, x1, y1):
    # pixel box of the reference to figure fractions
    ax = fig.add_axes([x0 / W, 1 - y1 / H, (x1 - x0) / W, (y1 - y0) / H])
    return ax


def draw_tree(ax, node, leaf_x):
    if isinstance(node, int):
        return leaf_x, node + 0.5
    x, a, b = node
    xa, ya = draw_tree(ax, a, leaf_x)
    xb, yb = draw_tree(ax, b, leaf_x)
    ax.plot([xa, x, x, xb], [ya, ya, yb, yb], color="black", lw=1.5, solid_joinstyle="miter")
    return x, (ya + yb) / 2


def draw_column_dendro(box, xlim, bottom, links, mass_x, mass_y):
    ax = add_ax(*box)
    ax.fill_between(mass_x, mass_y, bottom, step="post", color="black", lw=0)
    for xl, xr, top, fl, fr in links:
        ax.plot([xl, xl, xr, xr], [fl, top, top, fr], color="black", lw=1.6, solid_joinstyle="miter")
    # little forks standing on the solid part
    for x_a, x_b, y_a, y_b in zip(mass_x[:-1], mass_x[1:], mass_y[:-1], mass_y[1:]):
        if y_a < bottom - 10 and y_b < bottom - 10:
            top = min(y_a, y_b) - 14
            ax.plot([x_a + 3, x_a + 3, x_b + 3, x_b + 3], [y_a, top, top, y_b], color="black", lw=1.1)
    ax.plot(xlim, [bottom, bottom], color="black", lw=1.5)
    ax.set_xlim(*xlim)
    ax.set_ylim(bottom + 1, 0)
    ax.axis("off")


def draw_annotations(x0, x1, xlim, celltype, ngene, numi, spans):
    ncols = xlim[1] + 2
    ct = np.zeros((1, ncols), dtype=int)
    start = xlim[0]
    for end, kind in celltype:
        ct[0, start:end] = kind
        start = end
    ax = add_ax(x0, spans[0][0], x1, spans[0][1])
    ax.imshow(ct, cmap=ListedColormap(cell_colors), vmin=0, vmax=8, aspect="auto", interpolation="nearest", extent=(0, ncols, 1, 0))
    ax.set_xlim(*xlim)
    ax.axis("off")
    for items, cmap, sp in ((ngene, ngene_cmap, spans[1]), (numi, numi_cmap, spans[2])):
        arr = np.zeros((1, ncols))
        fill_row(arr[0], items, 0.28, 3)
        ax = add_ax(x0, sp[0], x1, sp[1])
        ax.imshow(arr, cmap=cmap, vmin=0, vmax=1, aspect="auto", interpolation="nearest", extent=(0, ncols, 1, 0))
        ax.set_xlim(*xlim)
        ax.axis("off")


def draw_heat(box, grid, xlim, cmap, vmax, labels, pad):
    ax = add_ax(*box)
    n, ncols = grid.shape
    ax.imshow(grid, cmap=cmap, vmin=0, vmax=vmax, aspect="auto", interpolation="nearest", extent=(0, ncols, n, 0))
    ax.set_xlim(*xlim)
    ax.set_ylim(n, 0)
    ax.set_xticks([])
    ax.yaxis.tick_right()
    ax.set_yticks(np.arange(n) + 0.5)
    ax.set_yticklabels(labels, fontsize=9.8)
    ax.tick_params(axis="y", length=0, pad=pad)
    for s in ax.spines.values():
        s.set_visible(False)


def draw_colorbar(box, cmap, vmax, vbottom, ticks, tick_labels):
    ax = add_ax(*box)
    grad = np.linspace(vmax, vbottom, 256).reshape(-1, 1)
    ax.imshow(grad, cmap=cmap, vmin=0, vmax=vmax, aspect="auto", extent=(0, 1, vbottom, vmax))
    ax.set_ylim(0, vmax)
    ax.set_xlim(0, 1)
    ax.set_xticks([])
    ax.yaxis.tick_right()
    ax.set_yticks(ticks)
    ax.set_yticklabels(tick_labels, fontsize=32)
    ax.tick_params(axis="y", length=0, pad=5)
    for s in ax.spines.values():
        s.set_visible(False)


def draw_legend(x, numi_low):
    ov.text(x, 497, "CellType", fontsize=32, fontweight="bold", va="center")
    for i, (name, col) in enumerate(zip(cell_types, cell_colors)):
        y = 530 + i * 48.4
        ov.add_patch(Rectangle((x - 1, y), 33, 32, color=col, lw=0))
        ov.text(x + 43, y + 16, name, fontsize=31.5, va="center")
    ov.text(x, 1031, "nGene", fontsize=32, fontweight="bold", va="center")
    ax = add_ax(x - 1, 1062, x + 32, 1193)
    ax.imshow(np.linspace(1, 0, 64).reshape(-1, 1), cmap=ngene_cmap, aspect="auto")
    ax.axis("off")
    ov.text(x + 43, 1079, "16952", fontsize=31.5, va="center")
    ov.text(x + 43, 1175, "501", fontsize=31.5, va="center")
    ov.text(x, 1272, "nUMI", fontsize=32, fontweight="bold", va="center")
    ax = add_ax(x - 1, 1303, x + 32, 1434)
    ax.imshow(np.linspace(1, 0, 64).reshape(-1, 1), cmap=numi_cmap, aspect="auto")
    ax.axis("off")
    ov.text(x + 43, 1321, "4973", fontsize=31.5, va="center")
    ov.text(x + 43, 1416, numi_low, fontsize=31.5, va="center")


def draw_arrow(tip_x, y, base_x, half, stub):
    ov.add_patch(Polygon([(tip_x, y), (base_x, y - half), (base_x, y - 5), (stub, y - 5), (stub, y + 5), (base_x, y + 5), (base_x, y + half)],
                         closed=True, color="#F5321B", lw=0, zorder=5))


heat_cmap = LinearSegmentedColormap.from_list("rdylbu", ["#4575B4", "#91BFDB", "#E0F3F8", "#FFFFBF", "#FEE090", "#FC8D59", "#D73027"])
gray_cmap = LinearSegmentedColormap.from_list("bw", ["#FFFFFF", "#000000"])
ngene_cmap = LinearSegmentedColormap.from_list("ngene", ["#EAEDEC", "#1C9672"])
numi_cmap = LinearSegmentedColormap.from_list("numi", ["#E8EBE6", "#3B8A32"])

fig = plt.figure(figsize=(W / 100, H / 100), dpi=100)
ov = fig.add_axes([0, 0, 1, 1], zorder=10)
ov.set_xlim(0, W)
ov.set_ylim(H, 0)
ov.axis("off")
ov.patch.set_alpha(0)

# panel A
ov.text(-1, 60, "A", fontsize=60, fontweight="bold", va="baseline")
ov.text(760, 49, "AUC", fontsize=37, fontweight="bold", ha="center", va="baseline")
draw_column_dendro((252, 85, 1276, 315), (18, 1547), 690, auc_links, auc_mass_x, auc_mass_y)
draw_annotations(252, 1276, (18, 1547), auc_celltype, auc_ngene, auc_numi, [(347, 386), (393, 430), (438, 474)])
auc_grid = make_grid(auc_rows, 1560, 0.05, 2)
for r in auc_dim_rows:
    for c in auc_dim_cols:
        auc_grid[r, c:c + 5] *= 0.72
draw_heat((252, 483, 1276, 1721), auc_grid, (7, 1557), heat_cmap, 0.38, auc_labels, 16)
draw_colorbar((1499, 482, 1544, 1156), heat_cmap, 0.38, 0, auc_ticks, auc_tick_labels)
draw_legend(1736, "303")
draw_arrow(1434, 1055, 1484, 25, 1489)

node = auc_trunk_items[0]
for item, x in zip(auc_trunk_items[1:], auc_trunk_x):
    node = (x, node, item)
auc_upper = (148, (160, node, auc_tail), (150, (182, 32, 33), 34))
auc_lower = (150, (155, (172, (183, 37, 38), 39), 40), (153, 41, 42))
auc_tree = (5, (27, (90, (104, (118, auc_upper, (150, 35, 36)), auc_lower),
                     (140, (153, (172, (205, 43, 44), 45), 46), 47)),
                (122, (198, 48, 49), 50)),
            (138, 51, 52))
ax = add_ax(0, 483, 228, 1721)
draw_tree(ax, auc_tree, 210)
ax.set_xlim(0, 210)
ax.set_ylim(53, 0)
ax.axis("off")

# panel B
ov.text(2304, 60, "B", fontsize=60, fontweight="bold", va="baseline")
ov.text(3067, 48, "all", fontsize=37, fontweight="bold", ha="center", va="baseline")
draw_column_dendro((2557, 0, 3581, 313), (368, 1557), 940, all_links, all_mass_x, all_mass_y)
draw_annotations(2557, 3581, (368, 1557), all_celltype, all_ngene, all_numi, [(347, 383), (391, 428), (437, 473)])
all_grid = make_grid(all_rows, 1565, 1.0, 3)
draw_heat((2557, 481, 3580, 1774), all_grid, (25, 1560), gray_cmap, 1.0, all_labels, 16)
draw_colorbar((3804, 481, 3849, 1155), gray_cmap, 1.0, 0.02, all_ticks, all_tick_labels)
draw_legend(4042, "270")
draw_arrow(3739, 1128, 3788, 25, 3795)

node = (660, 51, 52)
for leaf, x in zip(all_stair_leaves, all_stair_x):
    node = (x, leaf, node)
node = (405, (415, (438, 37, 38), (430, 39, (635, 40, 41))), node)
node = (398, (415, 35, 36), node)
node = (390, 34, node)
node = (385, 33, node)
node = (372, (388, 31, 32), node)
node = (368, (400, 28, (592, 29, 30)), node)
node = (358, (380, 26, 27), node)
node = (348, 25, node)
node = (330, (388, 22, (538, 23, 24)), node)
node = (310, (340, (505, 14, 15), (438, 16, (503, (583, 17, 18), (560, 19, (590, 20, 21))))), node)
node = (295, 13, node)
node = (243, (307, (458, 6, 7), (450, (540, 8, 9), (482, 10, (650, 11, 12)))), node)
node = (145, (520, 3, (662, 4, 5)), node)
all_tree = (92, (378, 0, (625, 1, 2)), node)
ax = add_ax(2280, 481, 2533, 1774)
draw_tree(ax, all_tree, 759)
ax.set_xlim(0, 759)
ax.set_ylim(53, 0)
ax.axis("off")

fig.savefig("out.png", dpi=100)
